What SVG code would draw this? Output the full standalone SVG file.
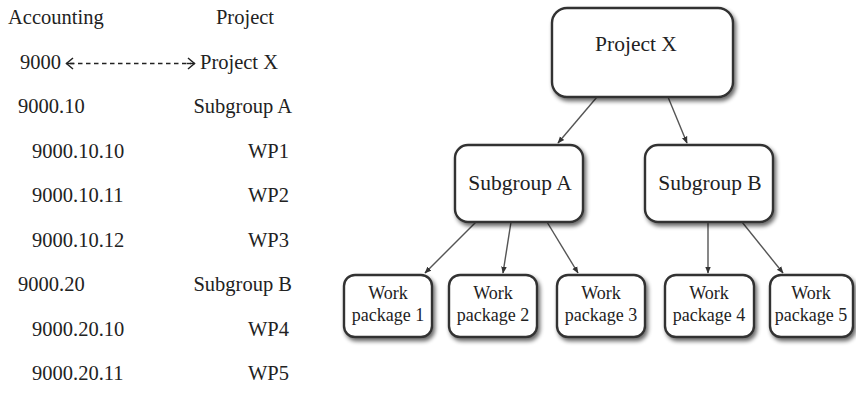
<svg xmlns="http://www.w3.org/2000/svg" width="856" height="405" viewBox="0 0 856 405">
  <defs>
    <filter id="shadow" x="-20%" y="-20%" width="150%" height="160%">
      <feGaussianBlur in="SourceAlpha" stdDeviation="2"/>
      <feOffset dx="1.5" dy="2.5" result="b"/>
      <feComponentTransfer><feFuncA type="linear" slope="0.6"/></feComponentTransfer>
      <feMerge><feMergeNode/><feMergeNode in="SourceGraphic"/></feMerge>
    </filter>
    <marker id="tip" viewBox="0 0 10 10" refX="9" refY="5" markerWidth="7" markerHeight="7" orient="auto" markerUnits="userSpaceOnUse">
      <path d="M0,1 L10,5 L0,9 Z" fill="#333"/>
    </marker>
    <style>
      text { font-family: "Liberation Serif", "DejaVu Serif", serif; fill: #222; }
      .t { font-size: 20.5px; }
      .r { text-anchor: end; }
      .m { text-anchor: middle; }
      .box { fill: #fff; stroke: #333; stroke-width: 2.4; filter: url(#shadow); }
      .big { font-size: 21.5px; }
      .wp { font-size: 18px; }
      .link { stroke: #555; stroke-width: 1.4; fill: none; marker-end: url(#tip); }
      .dash { stroke: #222; stroke-width: 1.3; stroke-dasharray: 4.5 3.5; }
      .chev { stroke: #222; stroke-width: 1.5; fill: none; }
    </style>
  </defs>
  <rect width="856" height="405" fill="#fff"/>

  <!-- accounting / project code table -->
  <g id="table">
    <text class="t" x="8" y="24">Accounting</text>
    <text class="t m" x="245" y="24">Project</text>
    <text class="t" x="20" y="69">9000</text>
    <text class="t" x="200" y="69">Project X</text>
    <text class="t" x="18" y="113">9000.10</text>
    <text class="t r" x="292" y="113">Subgroup A</text>
    <text class="t" x="32" y="158">9000.10.10</text>
    <text class="t r" x="289" y="158">WP1</text>
    <text class="t" x="32" y="202">9000.10.11</text>
    <text class="t r" x="289" y="202">WP2</text>
    <text class="t" x="32" y="247">9000.10.12</text>
    <text class="t r" x="289" y="247">WP3</text>
    <text class="t" x="18" y="291">9000.20</text>
    <text class="t r" x="292" y="291">Subgroup B</text>
    <text class="t" x="32" y="336">9000.20.10</text>
    <text class="t r" x="289" y="336">WP4</text>
    <text class="t" x="32" y="380">9000.20.11</text>
    <text class="t r" x="289" y="380">WP5</text>
  </g>

  <!-- two-way dashed link between account 9000 and Project X -->
  <g id="mapping">
    <line class="dash" x1="70" y1="63.5" x2="191" y2="63.5"/>
    <line x1="66" y1="63.5" x2="74" y2="63.5" stroke="#222" stroke-width="1.4"/>
    <line x1="187" y1="63.5" x2="195" y2="63.5" stroke="#222" stroke-width="1.4"/>
    <path class="chev" d="M73,58 L66.5,63.5 L73,69"/>
    <path class="chev" d="M188,58 L194.5,63.5 L188,69"/>
  </g>

  <!-- connectors -->
  <g id="connectors">
    <line class="link" x1="597" y1="97" x2="558" y2="143"/>
    <line class="link" x1="668" y1="97" x2="687" y2="143"/>
    <line class="link" x1="476" y1="222" x2="425" y2="273"/>
    <line class="link" x1="511" y1="222" x2="503" y2="273"/>
    <line class="link" x1="547" y1="222" x2="578" y2="273"/>
    <line class="link" x1="708" y1="222" x2="708" y2="273"/>
    <line class="link" x1="742" y1="222" x2="783" y2="273"/>
  </g>

  <g id="project-x">
    <rect class="box" x="552" y="8" width="181" height="89" rx="15"/>
    <text class="big m" x="636" y="51">Project X</text>
  </g>
  <g id="subgroup-a">
    <rect class="box" x="455" y="145" width="128" height="77" rx="13"/>
    <text class="big m" x="520" y="190">Subgroup A</text>
  </g>
  <g id="subgroup-b">
    <rect class="box" x="645" y="145" width="128" height="77" rx="13"/>
    <text class="big m" x="710" y="190">Subgroup B</text>
  </g>
  <g id="wp1">
    <rect class="box" x="344" y="275" width="88" height="62" rx="11"/>
    <text class="wp m" x="388" y="299">Work</text>
    <text class="wp m" x="388" y="321">package 1</text>
  </g>
  <g id="wp2">
    <rect class="box" x="449" y="275" width="88" height="62" rx="11"/>
    <text class="wp m" x="493" y="299">Work</text>
    <text class="wp m" x="493" y="321">package 2</text>
  </g>
  <g id="wp3">
    <rect class="box" x="557" y="275" width="88" height="62" rx="11"/>
    <text class="wp m" x="601" y="299">Work</text>
    <text class="wp m" x="601" y="321">package 3</text>
  </g>
  <g id="wp4">
    <rect class="box" x="665" y="275" width="89" height="62" rx="11"/>
    <text class="wp m" x="709" y="299">Work</text>
    <text class="wp m" x="709" y="321">package 4</text>
  </g>
  <g id="wp5">
    <rect class="box" x="770" y="275" width="83" height="62" rx="11"/>
    <text class="wp m" x="811" y="299">Work</text>
    <text class="wp m" x="811" y="321">package 5</text>
  </g>
</svg>
